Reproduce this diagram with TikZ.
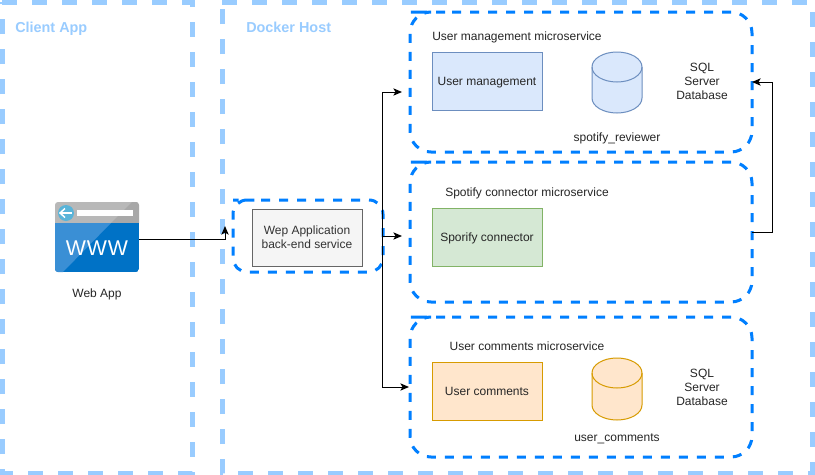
\documentclass[tikz,border=0pt]{standalone}
\usepackage{fontspec}
\setmainfont{Liberation Sans}
\usetikzlibrary{arrows.meta,calc}
\definecolor{outerblue}{HTML}{99CCFF}
\definecolor{innerblue}{HTML}{007FFF}
\definecolor{bluefill}{HTML}{DAE8FC}
\definecolor{blueline}{HTML}{6C8EBF}
\definecolor{greenfill}{HTML}{D5E8D4}
\definecolor{greenline}{HTML}{82B366}
\definecolor{orangefill}{HTML}{FFE6CC}
\definecolor{orangeline}{HTML}{D79B00}
\definecolor{greyfill}{HTML}{F5F5F5}
\definecolor{greyline}{HTML}{666666}
\definecolor{greytext}{HTML}{333333}
\definecolor{tabgrey}{HTML}{B8B8B8}
\definecolor{tabdark}{HTML}{A8A8A8}
\definecolor{wwwblue}{HTML}{0072C6}
\definecolor{wwwlight}{HTML}{3A8FD5}
\definecolor{backblue}{HTML}{59B4D9}
\tikzset{
  x=0.75pt,y=-0.75pt,
  txt/.style={inner sep=0pt,align=center,text=black!85,font=\fontsize{9}{10.5}\selectfont},
  oneline/.style={text height=6.5pt,text depth=0pt},
  head/.style={inner sep=0pt,anchor=west,text=outerblue,text height=7.8pt,text depth=0pt,font=\fontsize{10.8}{13}\selectfont\bfseries},
  outer/.style={draw=outerblue,line width=3.75pt,dash pattern=on 11.25pt off 11.25pt},
  inner/.style={draw=innerblue,line width=2.25pt,dash pattern=on 6.75pt off 6.75pt},
  boxnode/.style={draw,line width=0.75pt,minimum width=82.5pt,minimum height=43.5pt,inner sep=0pt,align=center,text=black!85,font=\fontsize{9}{10.5}\selectfont},
  conn/.style={draw=black,line width=0.75pt,-{Stealth[length=6.5pt,width=5.5pt,inset=1.6pt]}},
  ghost/.style={inner sep=0pt,outer sep=0pt,draw=none}
}
% name, x1, y1, x2, y2, radius(px)
\newcommand{\dashcontainer}[6]{%
  \path[inner,rounded corners=#6*0.75pt] (#2+#6,#3) -- (#4,#3) -- (#4,#5) -- (#2,#5) -- (#2,#3) -- cycle;
  \node[ghost,minimum width=(#4-#2)*0.75pt,minimum height=(#5-#3)*0.75pt] (#1) at ({(#2+#4)/2},{(#3+#5)/2}) {};
}
% x1, y1, x2, y2, line colour, fill colour
\newcommand{\dbcyl}[6]{%
  \path[draw=#5,fill=#6,line width=0.75pt] (#1,#2+15) arc[start angle=180,end angle=0,x radius=18.75pt,y radius=11.25pt] -- (#3,#4-15) arc[start angle=0,end angle=-180,x radius=18.75pt,y radius=11.25pt] -- cycle;
  \path[draw=#5,line width=0.75pt] (#1,#2+15) arc[start angle=180,end angle=360,x radius=18.75pt,y radius=11.25pt];
}
\begin{document}
\begin{tikzpicture}
\useasboundingbox[fill=white] (0,0) rectangle (815,475);
% outer frames
\path[outer] (2,2) -- (192,2) -- (192,473) -- (2,473) -- cycle;
\path[outer] (222,2) -- (812,2) -- (812,473) -- (222,473) -- cycle;
\node[head] (clientlabel) at (15,27.5) {Client App};
\node[head] (dockerlabel) at (246,27) {Docker Host};
% containers
\dashcontainer{um}{410}{12}{752}{152}{21}
\dashcontainer{sp}{410}{162}{752}{302}{21}
\dashcontainer{cm}{410}{317}{752}{457}{21}
\dashcontainer{gw}{233}{200}{383}{272}{14}
% boxes
\node[boxnode,fill=greyfill,draw=greyline,text=greytext,minimum height=42.75pt] (web) at (307,237.5) {Wep Application\\back-end service};
\node[boxnode,oneline,fill=bluefill,draw=blueline] (umbox) at (487,81) {User management};
\node[boxnode,oneline,fill=greenfill,draw=greenline] (spbox) at (487,237) {Sporify connector};
\node[boxnode,oneline,fill=orangefill,draw=orangeline] (cmbox) at (487,391) {User comments};
% databases
\dbcyl{592}{52}{642}{113}{blueline}{bluefill}
\dbcyl{592}{358}{642}{420}{orangeline}{orangefill}
% labels
\node[txt,oneline] (umtitle) at (517,36) {User management microservice};
\node[txt,oneline] (sptitle) at (527,192) {Spotify connector microservice};
\node[txt,oneline] (cmtitle) at (527,346) {User comments microservice};
\node[txt] (umdb) at (702,81) {SQL\\Server\\Database};
\node[txt] (cmdb) at (702,387) {SQL\\Server\\Database};
\node[txt,oneline] (umname) at (617,137) {spotify\_reviewer};
\node[txt,oneline] (cmname) at (617,437) {user\_comments};
% web app icon
\begin{scope}
  \clip[rounded corners=2.25pt] (55,202) rectangle (139,272);
  \fill[tabgrey] (55,202) rectangle (139,223);
  \fill[tabdark] (132,202) -- (139,202) -- (139,223) -- (111,223) -- cycle;
  \fill[wwwblue] (55,223) rectangle (139,272);
  \fill[wwwlight] (55,223) -- (111,223) -- (63,272) -- (55,272) -- cycle;
\end{scope}
\fill[backblue] (66,213) circle[radius=8];
\draw[white,line width=1.1pt] (72,213) -- (60,213);
\draw[white,line width=1.1pt] (65,208.5) -- (60,213) -- (65,217.5);
\fill[white] (77,210) rectangle (133,216);
\node[ghost,minimum width=63pt,minimum height=36pt,text=white,text height=12pt,text depth=0pt,font=\fontsize{16}{16}\selectfont\addfontfeature{LetterSpace=4}] (icon) at (97,247) {WWW};
\node[txt,oneline] (iconlabel) at (97,293) {Web App};
% connectors
\coordinate (iconout) at (139,239);
\coordinate (gwin) at (225,226);
\coordinate (gwout) at (382,236);
\coordinate (umin) at (402,92);
\coordinate (spin) at (402,236);
\coordinate (cmin) at (409,387);
\path[conn] (iconout) -| (gwin);
\path[conn] (gwout) |- (umin);
\path[conn] (gwout) -- (spin);
\path[conn] (gwout) |- (cmin);
\coordinate (spbend) at (772,232);
\path[conn] (sp.east) -- (spbend) |- (um.east);
\end{tikzpicture}
\end{document}
